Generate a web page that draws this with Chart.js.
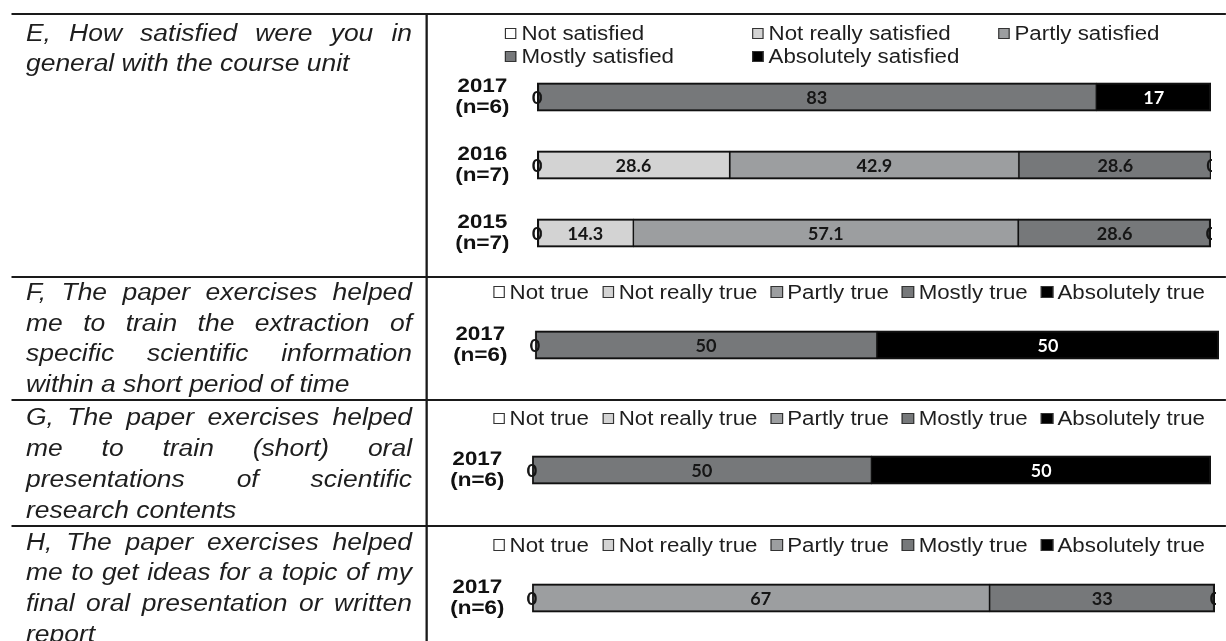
<!DOCTYPE html>
<html>
<head>
<meta charset="utf-8">
<script src="https://cdn.jsdelivr.net/npm/chart.js@4.4.1/dist/chart.umd.min.js"></script>
<style>
  html, body { margin: 0; padding: 0; background: #fff; overflow: hidden; }
  /* the source picture is stretched sideways, so the whole page is too */
  #page { position: relative; width: 1066px; height: 641px; transform: scaleX(1.15); transform-origin: 0 0;
          font-family: "Liberation Sans", Arial, sans-serif; color: #1e1e1e; }
  .hline { position: absolute; left: 9.6px; width: 1056.4px; height: 2px; background: #1a1a1a; }
  .vline { position: absolute; left: 370.4px; top: 12.5px; width: 1.75px; height: 640px; background: #1a1a1a; }
  .question { position: absolute; left: 22.6px; width: 335.7px; font-size: 23px; font-style: italic;
              line-height: 30.7px; text-align: justify; }
  .legend { position: absolute; font-size: 19.4px; line-height: 23px; white-space: nowrap; }
  .legend.row { display: flex; gap: 11.5px; left: 428.7px; }
  .legend.grid { display: grid; grid-template-columns: 214.8px 213.9px auto; left: 439.1px; top: 22px; }
  .item { display: flex; align-items: center; }
  .box { width: 10.4px; height: 11.5px; box-sizing: border-box; border: 1.4px solid #333; margin-right: 4px; }
  .plot { position: absolute; left: 372px; width: 694px; }
</style>
</head>
<body>
<div id="page">
  <div class="hline" style="top:12.5px"></div>
  <div class="hline" style="top:276px"></div>
  <div class="hline" style="top:399px"></div>
  <div class="hline" style="top:524.7px"></div>
  <div class="vline"></div>

  <div class="question" style="top:17.6px">E, How satisfied were you in general with the course unit</div>
  <div class="question" style="top:277px">F, The paper exercises helped me to train the extraction of specific scientific information within a short period of time</div>
  <div class="question" style="top:402.4px">G, The paper exercises helped me to train (short) oral presentations of scientific research contents</div>
  <div class="question" style="top:526.6px">H, The paper exercises helped me to get ideas for a topic of my final oral presentation or written report</div>

  <div class="legend grid" id="legendE"></div>
  <div class="legend row" id="legendF" style="top:280.5px"></div>
  <div class="legend row" id="legendG" style="top:406.8px"></div>
  <div class="legend row" id="legendH" style="top:533.5px"></div>

  <div class="plot" style="top:60px; height:210px"><canvas id="chartE"></canvas></div>
  <div class="plot" style="top:320px; height:50px"><canvas id="chartF"></canvas></div>
  <div class="plot" style="top:445px; height:50px"><canvas id="chartG"></canvas></div>
  <div class="plot" style="top:573px; height:50px"><canvas id="chartH"></canvas></div>
</div>

<script>
const answersSatisfied = ['Not satisfied', 'Not really satisfied', 'Partly satisfied', 'Mostly satisfied', 'Absolutely satisfied'];
const answersTrue = ['Not true', 'Not really true', 'Partly true', 'Mostly true', 'Absolutely true'];

const yearsE = [['2017', '(n=6)'], ['2016', '(n=7)'], ['2015', '(n=7)']];
const years2017 = [['2017', '(n=6)']];

// percent of answers, in the order of the answer lists
const e2017 = [0, 0, 0, 83, 17];
const e2016 = [0, 28.6, 42.9, 28.6, 0];
const e2015 = [0, 14.3, 57.1, 28.6, 0];
const f2017 = [0, 0, 0, 50, 50];
const g2017 = [0, 0, 0, 50, 50];
const h2017 = [0, 0, 67, 33, 0];

const fills = ['#ffffff', '#d3d3d3', '#9c9ea0', '#76787a', '#000000'];

function buildLegend(id, names) {
    const el = document.getElementById(id);
    names.forEach((name, i) => {
        const item = document.createElement('span');
        item.className = 'item';
        const box = document.createElement('span');
        box.className = 'box';
        box.style.background = fills[i];
        item.appendChild(box);
        item.appendChild(document.createTextNode(name));
        el.appendChild(item);
    });
}

// outer edges of a bar get a heavier line than the joins between segments
function edgeWidths(row, k) {
    const used = row.map((v, i) => v > 0 ? i : -1).filter(i => i >= 0);
    return {
        top: 2, bottom: 2,
        left: k === used[0] ? 2 : 1,
        right: k === used[used.length - 1] ? 2 : 1
    };
}

const valueLabels = {
    id: 'valueLabels',
    afterDatasetsDraw(chart) {
        const { ctx, chartArea } = chart;
        ctx.save();
        ctx.beginPath();
        ctx.rect(0, 0, chartArea.right + 1, chart.height);
        ctx.clip();
        ctx.font = '700 18.5px Lato';
        ctx.textAlign = 'center';
        ctx.textBaseline = 'middle';
        const seen = new Set();
        chart.data.datasets.forEach((ds, i) => {
            chart.getDatasetMeta(i).data.forEach((bar, j) => {
                const v = ds.data[j];
                if (v == null) return;
                const x = (bar.x + bar.base) / 2;
                const key = j + ':' + Math.round(x);
                if (seen.has(key)) return;
                seen.add(key);
                ctx.fillStyle = (i === 4 && v > 0) ? '#ffffff' : '#161616';
                // narrow digits, like the original's label face
                ctx.save();
                ctx.translate(x, bar.y + 1);
                ctx.scale(0.85, 1);
                ctx.fillText(String(v), 0, 0);
                ctx.restore();
            });
        });
        ctx.restore();
    }
};

function makeChart(id, names, years, rows, axisWidth, rightPad, padY) {
    const datasets = names.map((name, k) => ({
        label: name,
        data: rows.map(r => r[k]),
        backgroundColor: fills[k],
        borderColor: '#111111',
        borderWidth: c => edgeWidths(rows[c.dataIndex], c.datasetIndex),
        borderSkipped: false,
        barThickness: 28
    }));

    return new Chart(document.getElementById(id), {
        type: 'bar',
        data: { labels: years, datasets: datasets },
        options: {
            indexAxis: 'y',
            animation: false,
            responsive: true,
            maintainAspectRatio: false,
            devicePixelRatio: 2,
            layout: { padding: { top: padY, bottom: padY, right: rightPad, left: 0 } },
            plugins: { legend: { display: false }, tooltip: { enabled: false } },
            scales: {
                x: { stacked: true, min: 0, max: 100, display: false },
                y: {
                    stacked: true,
                    grid: { display: false, drawTicks: false },
                    border: { display: false },
                    ticks: {
                        crossAlign: 'center',
                        padding: 24,
                        color: '#111111',
                        font: { family: 'Liberation Sans', weight: 'bold', size: 19.5, lineHeight: 1.08 }
                    },
                    afterFit(scale) {
                        scale.width = axisWidth;
                        // labels sit beside their bars, so they need no room above or below
                        scale.paddingTop = 0;
                        scale.paddingBottom = 0;
                    }
                }
            }
        },
        plugins: [valueLabels]
    });
}

buildLegend('legendE', answersSatisfied);
buildLegend('legendF', answersTrue);
buildLegend('legendG', answersTrue);
buildLegend('legendH', answersTrue);

makeChart('chartE', answersSatisfied, yearsE, [e2017, e2016, e2015], 95, 13, 3);
makeChart('chartF', answersTrue, years2017, [f2017], 93.2, 6, 0);
makeChart('chartG', answersTrue, years2017, [g2017], 90.6, 13, 0);
makeChart('chartH', answersTrue, years2017, [h2017], 90.6, 9.5, 0);
</script>
</body>
</html>
